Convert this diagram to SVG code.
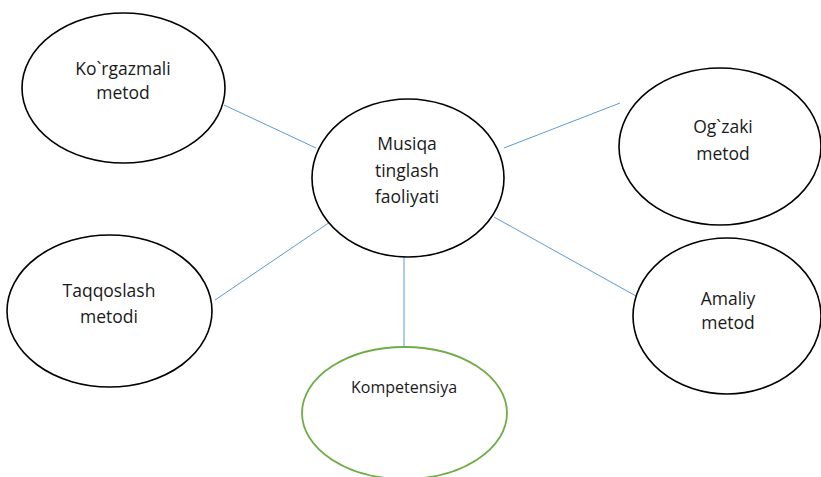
<svg xmlns="http://www.w3.org/2000/svg" width="821" height="477" viewBox="0 0 821 477">
<style>
.node{fill:#fff;stroke:#000;stroke-width:1.6}
.green{fill:#fff;stroke:#70AD47;stroke-width:1.8}
.conn line{stroke:#5B9BD5;stroke-width:1}
text{font-family:"Open Sans","Liberation Sans",sans-serif;font-size:17.5px;fill:#1a1a1a;text-anchor:middle}
.small{font-size:16px}
</style>
<rect width="821" height="477" fill="#fff"/>
<g id="connectors" class="conn">
<line x1="224" y1="105" x2="316" y2="148"/>
<line x1="504" y1="148" x2="620" y2="103"/>
<line x1="215" y1="300" x2="330" y2="222"/>
<line x1="494" y1="217" x2="636" y2="296"/>
<line x1="404" y1="255" x2="404" y2="357"/>
</g>
<g id="korgazmali">
<ellipse class="node" cx="123.5" cy="88" rx="101.5" ry="75"/>
<text x="123" y="75">Ko`rgazmali</text>
<text x="123" y="99">metod</text>
</g>
<g id="musiqa">
<ellipse class="node" cx="408" cy="178" rx="96" ry="79"/>
<text x="407" y="150">Musiqa</text>
<text x="407" y="177">tinglash</text>
<text x="407" y="203">faoliyati</text>
</g>
<g id="ogzaki">
<ellipse class="node" cx="720" cy="146.5" rx="101" ry="78.5"/>
<text x="723" y="133">Og`zaki</text>
<text x="723" y="160">metod</text>
</g>
<g id="taqqoslash">
<ellipse class="node" cx="109.5" cy="311" rx="102.5" ry="76"/>
<text x="109" y="297">Taqqoslash</text>
<text x="109" y="323">metodi</text>
</g>
<g id="amaliy">
<ellipse class="node" cx="727" cy="316" rx="94" ry="78"/>
<text x="728" y="305">Amaliy</text>
<text x="728" y="329">metod</text>
</g>
<g id="kompetensiya">
<ellipse class="green" cx="404.5" cy="413" rx="102.5" ry="66"/>
<text class="small" x="404" y="393">Kompetensiya</text>
</g>
</svg>
